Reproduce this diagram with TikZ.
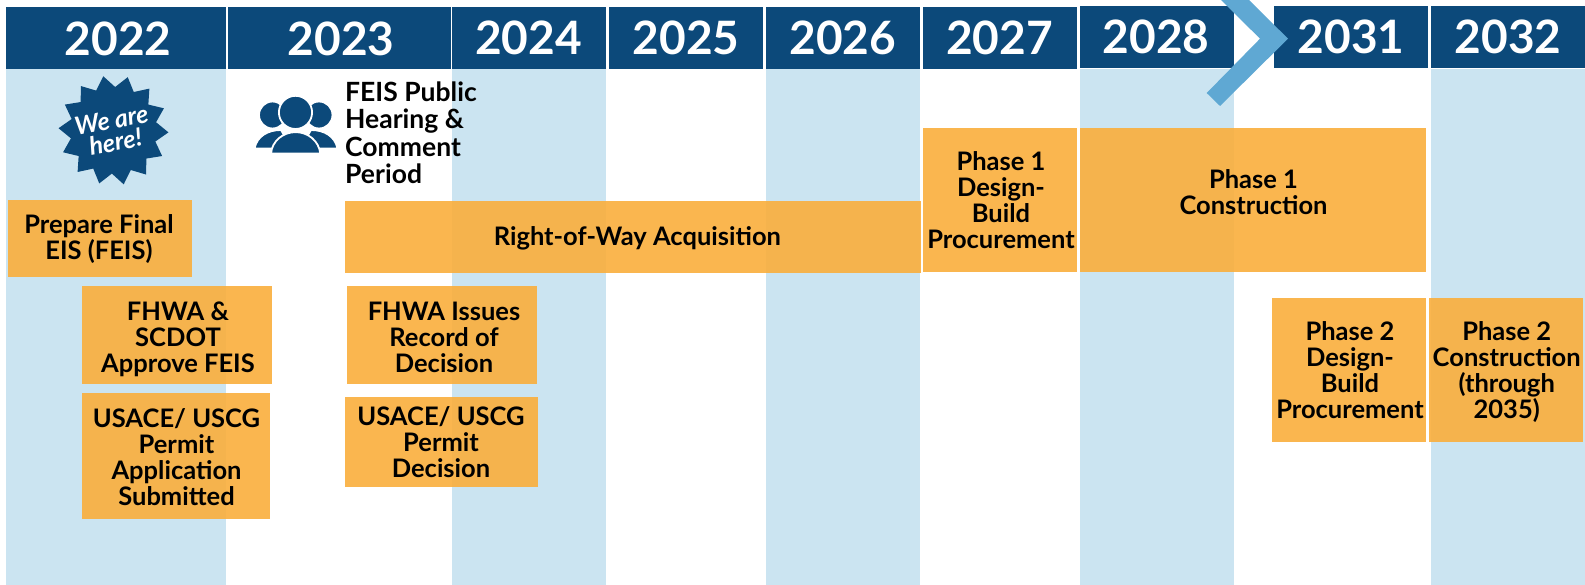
\documentclass[tikz,border=0pt]{standalone}
\usepackage{fontspec}
\setmainfont{Lato}
\usetikzlibrary{shapes.geometric}
\definecolor{headblue}{HTML}{0C497A}
\definecolor{bandblue}{HTML}{CBE4F1}
\definecolor{arrowblue}{HTML}{5FA8D3}
\definecolor{taskorange}{HTML}{FAAE3C}
\begin{document}
\begin{tikzpicture}[x=1pt,y=-1pt]
	\tikzstyle{year_band} = [rectangle, fill=bandblue, inner sep=0, minimum height=516pt, minimum width=154pt]
	\tikzstyle{year_box} = [rectangle, fill=headblue, inner sep=0, minimum height=62pt, minimum width=154pt]
	\tikzstyle{year_text} = [anchor=base, inner sep=0, text=white, font=\fontsize{46}{50}\selectfont\bfseries]
	\tikzstyle{task_box} = [rectangle, fill=taskorange, fill opacity=0.9, inner sep=0]
	\tikzstyle{task_text} = [anchor=base, align=center, inner sep=0, text=black, font=\fontsize{25.5}{26}\selectfont\bfseries]
	\tikzstyle{icon_part} = [fill=headblue, draw=white, line width=1.8pt]

	\useasboundingbox (0,0) rectangle (1585,585);

%------------------------------------------------------------
	\node[year_band, minimum width=220pt] (b22) at (116,327) {};
	\node[year_band] (b24) at (529,327) {};
	\node[year_band] (b26) at (843,327) {};
	\node[year_band] (b28) at (1157,327) {};
	\node[year_band] (b32) at (1508,327) {};

%------------------------------------------------------------
	\node[year_box, minimum width=220pt] (h22) at (116,38) {};
	\node[year_box, minimum width=223pt] (h23) at (339.5,38) {};
	\node[year_box] (h24) at (529,38) {};
	\node[year_box] (h25) at (686,38) {};
	\node[year_box] (h26) at (843,38) {};
	\node[year_box] (h27) at (1000,38) {};
	\node[year_box] (h28) at (1157,37) {};
	\node[year_box] (h31) at (1351,37) {};
	\node[year_box] (h32) at (1508,37) {};

	\fill[arrowblue] (1221,0) -- (1260,38.7) -- (1206.7,93) -- (1220,106) -- (1288,38.7) -- (1249,0) -- cycle;

	\node[year_text] (y22) at (118.3,56) {2022};
	\node[year_text] (y23) at (341,56) {2023};
	\node[year_text] (y24) at (528.6,55) {2024};
	\node[year_text] (y25) at (686,55) {2025};
	\node[year_text] (y26) at (842.8,55) {2026};
	\node[year_text] (y27) at (999.6,55) {2027};
	\node[year_text] (y28) at (1156,54) {2028};
	\node[year_text] (y31) at (1351,54) {2031};
	\node[year_text] (y32) at (1508,54) {2032};

%------------------------------------------------------------
	\node[star, star points=14, star point ratio=1.27, minimum size=110pt, inner sep=0, rotate=10.7, fill=headblue] (burst) at (113.5,130.3) {};
	\node[rotate=10.7, align=center, inner sep=0, text=white, font=\fontsize{25}{22}\selectfont\bfseries\itshape] (here) at (113.5,131) {We are\\here!};

%------------------------------------------------------------
	\fill[icon_part] (254.5,148.6) .. controls (257,136) and (268,130) .. (281,130) -- (292,148.6) -- cycle;
	\fill[icon_part] (337.5,148.6) .. controls (335,136) and (324,130) .. (311,130) -- (300,148.6) -- cycle;
	\filldraw[icon_part] (272.5,115) circle (13.5pt);
	\filldraw[icon_part] (319,115) circle (13.5pt);
	\filldraw[icon_part] (295.5,112.4) circle (16.6pt);
	\filldraw[icon_part] (271,153.6) .. controls (272,141) and (283,132.1) .. (295.7,132.1) .. controls (308,132.1) and (319,141) .. (320.3,153.6) -- cycle;
	\node[anchor=base west, align=left, inner sep=0, text=black, font=\fontsize{26.5}{27.3}\selectfont\bfseries] (hearing) at (345,183.5) {FEIS Public\\Hearing \&\\Comment\\Period};

%------------------------------------------------------------
	\node[task_box, minimum width=184pt, minimum height=77pt] (prep) at (100,238.5) {};
	\node[task_text] (prep_t) at (99,259.8) {Prepare Final\\EIS (FEIS)};

	\node[task_box, minimum width=190pt, minimum height=98pt] (appr) at (177,335) {};
	\node[task_text] (appr_t) at (178,372) {FHWA \&\\SCDOT\\Approve FEIS};

	\node[task_box, minimum width=188pt, minimum height=126pt] (appl) at (176,456) {};
	\node[task_text] (appl_t) at (176.5,505.5) {USACE/ USCG\\Permit\\Application\\Submitted};

%------------------------------------------------------------
	\node[task_box, minimum width=576pt, minimum height=72pt] (row) at (633,237) {};
	\node[task_text] (row_t) at (637.4,246) {Right-of-Way Acquisition};

	\node[task_box, minimum width=190pt, minimum height=98pt] (rod) at (442,335) {};
	\node[task_text] (rod_t) at (444,372) {FHWA Issues\\Record of\\Decision};

	\node[task_box, minimum width=193pt, minimum height=90pt] (dec) at (441.5,442) {};
	\node[task_text] (dec_t) at (441,477) {USACE/ USCG\\Permit\\Decision};

%------------------------------------------------------------
	\node[task_box, minimum width=154pt, minimum height=144pt] (p1d) at (1000,200) {};
	\node[task_text] (p1d_t) at (1001,249) {Phase 1\\Design-\\Build\\Procurement};

	\node[task_box, minimum width=346pt, minimum height=144pt] (p1c) at (1253,200) {};
	\node[task_text] (p1c_t) at (1253.5,214.7) {Phase 1\\Construction};

	\node[task_box, minimum width=154pt, minimum height=144pt] (p2d) at (1349,370) {};
	\node[task_text] (p2d_t) at (1350,418.3) {Phase 2\\Design-\\Build\\Procurement};

	\node[task_box, minimum width=154pt, minimum height=144pt] (p2c) at (1506,370) {};
	\node[task_text] (p2c_t) at (1506.7,418.3) {Phase 2\\Construction\\(through\\2035)};

\end{tikzpicture}
\end{document}
